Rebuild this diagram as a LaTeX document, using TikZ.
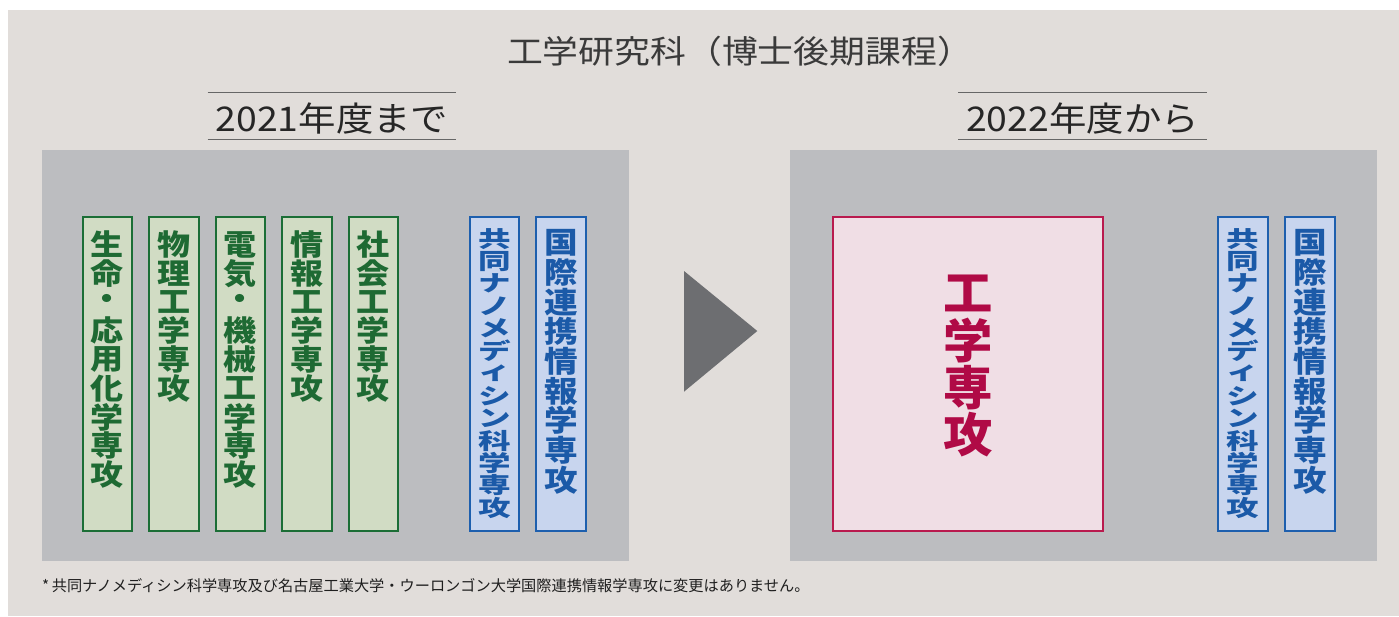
\documentclass[tikz,border=0pt]{standalone}
\usepackage{fontspec}
\usepackage{graphicx}
\newfontfamily\jp{Noto Sans CJK JP}
\definecolor{lightbg}{HTML}{E1DDDA}
\definecolor{panelgray}{HTML}{BCBDC0}
\definecolor{arrowgray}{HTML}{6D6E71}
\definecolor{gfill}{HTML}{D1DCC4}
\definecolor{gline}{HTML}{1B6E36}
\definecolor{gtext}{HTML}{1E6A33}
\definecolor{bfill}{HTML}{C8D5EE}
\definecolor{bline}{HTML}{1D5FAE}
\definecolor{btext}{HTML}{1B5AA8}
\definecolor{pfill}{HTML}{F0DEE5}
\definecolor{pline}{HTML}{B91A4E}
\definecolor{ptext}{HTML}{B00A46}
\definecolor{titletext}{HTML}{3A3A3A}
\newcommand\myhx[1]{\scalebox{1.12}[1]{#1}}
\newcommand\mygx[1]{\scalebox{1.14}[1]{#1}}
\newcommand\mynx[1]{\scalebox{1.05}[0.72]{#1}}
\newcommand\gcolumn[3]{\foreach \c [count=\i from 0] in {#3} \node[gchar] (#1t\i) at (#2, 244.5+28.75*\i) {\mygx{\c}};}
\newcommand\kcolumn[3]{\foreach \c [count=\i from 0] in {#3} \node[bchar] (#1t\i) at (#2, 243+29.6*\i) {\mygx{\c}};}
\newcommand\ncolumn[3]{\foreach \c [count=\i from 0] in {#3} \node[nchar] (#1t\i) at (#2, 239+22.4*\i) {\mynx{\c}};}
\begin{document}
\begin{tikzpicture}[x=1pt,y=-1pt,
  panel/.style={fill=panelgray, draw=none},
  gbox/.style={draw=gline, fill=gfill, line width=2pt, minimum width=49.5pt, minimum height=313.5pt, inner sep=0pt},
  bbox/.style={draw=bline, fill=bfill, line width=2pt, minimum width=49.5pt, minimum height=313.5pt, inner sep=0pt},
  pbox/.style={draw=pline, fill=pfill, line width=2pt, minimum width=270pt, minimum height=313.5pt, inner sep=0pt},
  gchar/.style={inner sep=0pt, text=gtext, font=\jp\bfseries\fontsize{29}{29}\selectfont},
  bchar/.style={inner sep=0pt, text=btext, font=\jp\bfseries\fontsize{29.5}{29.5}\selectfont},
  nchar/.style={inner sep=0pt, text=btext, font=\jp\bfseries\fontsize{31}{31}\selectfont},
  pchar/.style={inner sep=0pt, text=ptext, font=\jp\bfseries\fontsize{47}{47}\selectfont},
  yearlabel/.style={inner sep=0pt, anchor=base, text=black!85, font=\jp\fontsize{34}{34}\selectfont},
  yearline/.style={draw=black!60, line width=1.3pt}
]
\useasboundingbox (0,0) rectangle (1399,616);
\fill[white] (0,0) rectangle (1399,616);
\fill[lightbg] (8,10) rectangle (1399,616);

% title
\node[inner sep=0pt, text=titletext, font=\jp\fontsize{32}{32}\selectfont] (title) at (740,51) {\myhx{工学研究科（博士後期課程）}};

% year labels
\node[yearlabel] (y2021) at (332,131) {\scalebox{1.1}[1]{2021年度まで}};
\coordinate (l1a) at (207.5,92.7); \coordinate (l1b) at (456,92.7);
\coordinate (l1c) at (207.5,139.3); \coordinate (l1d) at (456,139.3);
\draw[yearline] (l1a) -- (l1b);
\draw[yearline] (l1c) -- (l1d);
\node[yearlabel] (y2022) at (1082.5,131) {\scalebox{1.1}[1]{2022年度から}};
\coordinate (l2a) at (958,92.7); \coordinate (l2b) at (1207,92.7);
\coordinate (l2c) at (958,139.3); \coordinate (l2d) at (1207,139.3);
\draw[yearline] (l2a) -- (l2b);
\draw[yearline] (l2c) -- (l2d);

% panels
\fill[panel] (42,150) rectangle (629,560.7);
\fill[panel] (790,150) rectangle (1376.7,560.7);

% arrow
\fill[arrowgray] (684,271) -- (757.3,331) -- (684,391.7) -- cycle;

% left side boxes
\node[gbox] (g1) at (107.25,373.75) {};
\node[gbox] (g2) at (174,373.75) {};
\node[gbox] (g3) at (240.5,373.75) {};
\node[gbox] (g4) at (307,373.75) {};
\node[gbox] (g5) at (373.5,373.75) {};
\node[bbox] (bl1) at (494.5,373.75) {};
\node[bbox] (bl2) at (561,373.75) {};

\gcolumn{g1}{107.25}{生,命,・,応,用,化,学,専,攻}
\gcolumn{g2}{174}{物,理,工,学,専,攻}
\gcolumn{g3}{240.5}{電,気,・,機,械,工,学,専,攻}
\gcolumn{g4}{307}{情,報,工,学,専,攻}
\gcolumn{g5}{373.5}{社,会,工,学,専,攻}
\ncolumn{bl1}{494.5}{共,同,ナ,ノ,メ,デ,ィ,シ,ン,科,学,専,攻}
\kcolumn{bl2}{561}{国,際,連,携,情,報,学,専,攻}

% right side boxes
\node[pbox] (p) at (968,373.75) {};
\foreach \c [count=\i from 0] in {工,学,専,攻} \node[pchar] (pt\i) at (968, 293+47.3*\i) {\scalebox{1.05}[1]{\c}};
\node[bbox] (br1) at (1243,373.75) {};
\node[bbox] (br2) at (1310,373.75) {};
\ncolumn{br1}{1243}{共,同,ナ,ノ,メ,デ,ィ,シ,ン,科,学,専,攻}
\kcolumn{br2}{1310}{国,際,連,携,情,報,学,専,攻}

% footnote
\node[inner sep=0pt, anchor=base west, text=black!88, font=\jp\fontsize{15.2}{15.2}\selectfont] (note) at (42,591) {*\,共同ナノメディシン科学専攻及び名古屋工業大学・ウーロンゴン大学国際連携情報学専攻に変更はありません。};
\end{tikzpicture}
\end{document}
